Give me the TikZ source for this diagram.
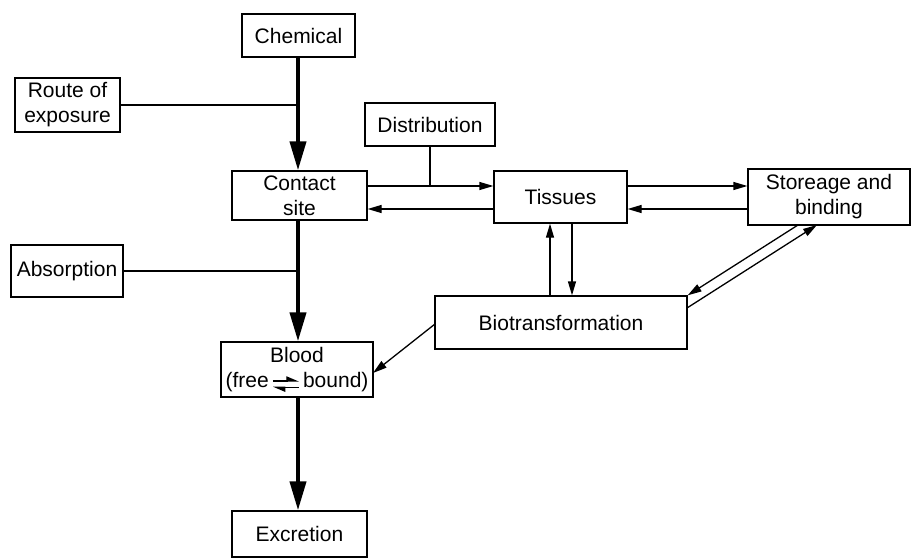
\documentclass[tikz,border=0pt]{standalone}
\usepackage{fontspec}
\setmainfont{Liberation Sans}
\usetikzlibrary{arrows.meta}
\newcommand\eqarr{\tikz[baseline=-3.5pt,x=1pt,y=1pt]{%
  \draw[line width=1.3pt,-{Triangle[length=11pt,width=9pt,left]}] (0,3)--(26,3);
  \draw[line width=1.3pt,-{Triangle[length=11pt,width=9pt,left]}] (26,-3.5)--(0,-3.5);}}
\begin{document}
\begin{tikzpicture}[x=1pt,y=-1pt,
  box/.style={draw,line width=1.3pt,inner sep=0pt,align=center,font=\fontsize{21}{25}\selectfont},
  thin/.style={line width=1.3pt},
  thinarr/.style={line width=1.3pt,-{Triangle[length=14pt,width=8pt]}},
  thickarr/.style={line width=4pt,-{Triangle[length=29pt,width=16pt]}}]
\useasboundingbox (0,0) rectangle (911,559);
\node[box,minimum width=113pt,minimum height=43pt] (chem) at (298.5,35.5) {Chemical};
\node[box,minimum width=105pt,minimum height=54pt] (route) at (67.5,105) {Route of\\exposure};
\node[box,minimum width=135pt,minimum height=49pt] (contact) at (299.5,195.5) {Contact\\site};
\node[box,minimum width=130pt,minimum height=43pt] (dist) at (430,124.5) {Distribution};
\node[box,minimum width=133pt,minimum height=52pt] (tissues) at (560.5,197) {Tissues};
\node[box,minimum width=162pt,minimum height=56pt] (store) at (829,197) {Storeage and\\binding};
\node[box,minimum width=112pt,minimum height=52pt] (absorp) at (67,271) {Absorption};
\node[box,minimum width=252pt,minimum height=53pt] (bio) at (561,322.5) {Biotransformation};
\node[box,minimum width=152pt,minimum height=55pt] (blood) at (297,369.5) {Blood\\(free\,\eqarr\,bound)};
\node[box,minimum width=135pt,minimum height=46pt] (excr) at (299.5,534) {Excretion};
\coordinate (stemx) at (298,0);
\coordinate (yA) at (0,186);
\coordinate (yB) at (0,209);
\coordinate (xA) at (550,0);
\coordinate (xB) at (572,0);
% main vertical flow
\draw[thickarr] (chem.south -| stemx) -- (contact.north -| stemx);
\draw[thin] (route.east) -- (route.east -| stemx);
\draw[thickarr] (contact.south -| stemx) -- (blood.north -| stemx);
\draw[thin] (absorp.east) -- (absorp.east -| stemx);
\draw[thickarr] (blood.south -| stemx) -- (excr.north -| stemx);
% contact <-> tissues
\draw[thinarr] (contact.east |- yA) -- (tissues.west |- yA);
\draw[thinarr] (tissues.west |- yB) -- (contact.east |- yB);
\draw[thin] (dist.south) -- (dist.south |- yA);
% tissues <-> storage
\draw[thinarr] (tissues.east |- yA) -- (store.west |- yA);
\draw[thinarr] (store.west |- yB) -- (tissues.east |- yB);
% tissues <-> biotransformation
\draw[thinarr] (bio.north -| xA) -- (tissues.south -| xA);
\draw[thinarr] (tissues.south -| xB) -- (bio.north -| xB);
% storage <-> biotransformation
\coordinate (s1) at (798,225);
\coordinate (s2) at (817,225);
\coordinate (b2) at (687,308);
\draw[thinarr] (s1) -- (bio.north east);
\draw[thinarr] (b2) -- (s2);
% biotransformation -> blood
\coordinate (bw) at (435,324);
\coordinate (be) at (373,373);
\draw[thinarr] (bw) -- (be);
\end{tikzpicture}
\end{document}
